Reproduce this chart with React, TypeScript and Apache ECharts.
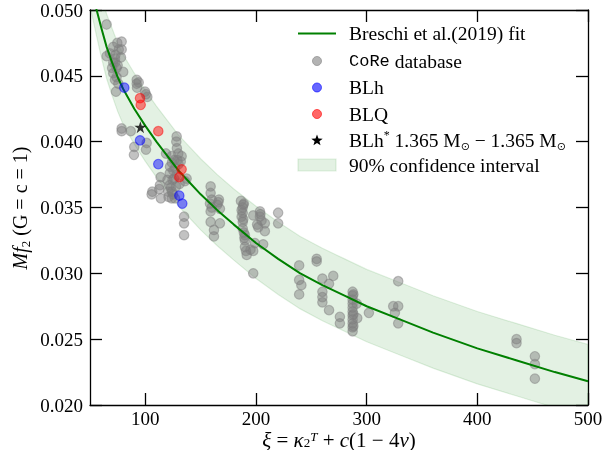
import React, { useEffect, useRef } from "react";
import * as echarts from "echarts";

// ---- Fit curve (Breschi et al. 2019) and 90% band ----
const fitXi = [50, 56, 60, 65, 70, 75, 80, 90, 100, 110, 120, 130, 140, 150, 165, 180, 200, 220, 240, 260, 280, 300, 330, 360, 400, 435, 470, 500];
const fitMf = [0.0522, 0.05, 0.0487, 0.0472, 0.046, 0.0449, 0.044, 0.0425, 0.0412, 0.04, 0.0389, 0.0378, 0.0369, 0.036, 0.0348, 0.0337, 0.0323, 0.0311, 0.03, 0.0291, 0.0283, 0.0275, 0.0265, 0.0255, 0.0243, 0.0234, 0.0225, 0.0218];
const bandUpper = [0.0546, 0.0524, 0.0512, 0.0497, 0.0486, 0.0475, 0.0466, 0.0452, 0.0439, 0.0427, 0.0416, 0.0405, 0.0396, 0.0387, 0.0375, 0.0364, 0.0351, 0.0339, 0.0328, 0.0319, 0.0311, 0.0303, 0.0293, 0.0283, 0.0271, 0.0262, 0.0253, 0.0246];
const bandLower = [0.0503, 0.048, 0.0465, 0.0448, 0.0435, 0.0423, 0.0413, 0.0398, 0.0385, 0.0373, 0.0362, 0.0351, 0.0342, 0.0333, 0.0321, 0.031, 0.0296, 0.0284, 0.0273, 0.0264, 0.0256, 0.0248, 0.0238, 0.0228, 0.0216, 0.0207, 0.0198, 0.0191];

// ---- CoRe database points [xi, Mf2] ----
const coreA = [[65, 0.0489], [74.7, 0.0475], [78.6, 0.0476], [71, 0.0472], [78.6, 0.047], [65, 0.0465], [68, 0.0467], [72.6, 0.0463], [78, 0.0464], [71, 0.046], [74, 0.0456], [71, 0.0452], [74, 0.0449], [72.6, 0.0447], [75.6, 0.0444], [73.5, 0.0438], [80, 0.0453], [72.6, 0.046], [75, 0.0458], [73, 0.0466], [76, 0.047], [70, 0.0456]];
const coreB = [[92.2, 0.0447], [92.2, 0.0444], [92.5, 0.0441], [99.7, 0.0438], [101.8, 0.0434], [100.5, 0.0436], [94, 0.0445]];
const coreC = [[78.6, 0.041], [78.6, 0.0408], [86.8, 0.0408], [90, 0.0396], [89.7, 0.039], [101.2, 0.0399], [100.6, 0.0394]];
const coreD = [[128.3, 0.0404], [128, 0.04], [128.5, 0.0395], [118.7, 0.0391], [123.8, 0.0389], [129.8, 0.0391], [132.8, 0.0389], [126, 0.0386], [122.3, 0.0381], [125.3, 0.0378], [122, 0.0376], [128.3, 0.0375], [124.6, 0.0371], [122, 0.0367], [127.7, 0.0366], [124, 0.0362], [120.7, 0.0362], [123.8, 0.0357], [135.8, 0.037], [137.3, 0.0372], [113.8, 0.0373], [113.2, 0.0367], [112.6, 0.0364], [106.3, 0.0362], [105.7, 0.036], [114, 0.0357], [135, 0.0343], [135, 0.0338], [135, 0.0329], [126.8, 0.0357], [130, 0.0383], [127, 0.038], [131, 0.0368], [120, 0.0371], [124, 0.0384], [126, 0.0372], [123, 0.0365], [129, 0.0386], [125, 0.036], [121, 0.0358], [132, 0.0385]];
const coreE = [[159, 0.0366], [159, 0.0361], [166, 0.0354], [167.4, 0.0349], [158.4, 0.0353], [159, 0.0347], [159, 0.0339], [167.4, 0.0338], [162, 0.0333], [162, 0.0328], [166.5, 0.0356], [160, 0.0356], [160, 0.035], [165, 0.0352]];
const coreF = [[186.4, 0.0355], [188.5, 0.0352], [187, 0.0348], [187, 0.0343], [188, 0.0339], [188, 0.0334], [190, 0.0329], [190, 0.032], [191.6, 0.0314], [197.5, 0.0317], [199, 0.0323], [197.5, 0.0344], [203.6, 0.0347], [203.6, 0.0343], [202, 0.0335], [208, 0.0338], [208, 0.0332], [206.5, 0.0322], [197.5, 0.03], [220, 0.0346], [220, 0.0338], [189, 0.0353], [188, 0.0346], [190, 0.0325], [195, 0.0318], [205, 0.034], [201, 0.0337], [188, 0.035], [188.5, 0.0341], [189, 0.0331], [189.5, 0.0327], [191, 0.0317], [204, 0.0345]];
const coreG = [[239, 0.0306], [239, 0.0295], [241, 0.0291], [239, 0.0284], [254.8, 0.0311], [254.8, 0.0309], [260, 0.0296], [269.8, 0.0298], [266, 0.0292], [260, 0.0286], [260, 0.0282], [260, 0.0278], [266, 0.0272], [275.8, 0.0267], [275.8, 0.0262]];
const coreH = [[287.3, 0.0286], [287.3, 0.0283], [287.3, 0.028], [287.3, 0.0277], [287.3, 0.0274], [287.3, 0.0271], [287.3, 0.0268], [287.3, 0.0265], [287.3, 0.0262], [287.3, 0.0259], [287.3, 0.0256], [291, 0.0277], [291.5, 0.0266], [302, 0.027], [288, 0.0284], [288, 0.0269], [288, 0.026]];
const coreI = [[328.5, 0.0294], [324, 0.0275], [328.5, 0.0275], [325.5, 0.027], [328.5, 0.0262]];
const coreJ = [[435.4, 0.025], [435.4, 0.0247], [452, 0.0237], [452, 0.0231], [452, 0.022]];

const blhPoints = [[81, 0.0441], [95.2, 0.0401], [111.7, 0.0383], [130.7, 0.0359], [133.4, 0.0353]];
const blqPoints = [[95.2, 0.0433], [95.8, 0.0428], [111.7, 0.0408], [132.8, 0.0379], [130.7, 0.0373]];
const starPoints = [[95.5, 0.0411]];

const xTicks = [100, 200, 300, 400, 500];

const SERIF = "'Liberation Serif', 'DejaVu Serif', serif";
const STAR_PATH = "path://M50,0 L61.2,34.5 L97.6,34.5 L68.2,55.9 L79.4,90.5 L50,69.1 L20.6,90.5 L31.8,55.9 L2.4,34.5 L38.8,34.5 Z";

function starPolygon(cx: number, cy: number, R: number, r: number) {
  const pts: number[][] = [];
  for (let i = 0; i < 10; i++) {
    const a = -Math.PI / 2 + (i * Math.PI) / 5;
    const rad = i % 2 === 0 ? R : r;
    pts.push([cx + rad * Math.cos(a), cy + rad * Math.sin(a)]);
  }
  return pts;
}

export default function App() {
  const ref = useRef<HTMLDivElement>(null);
  useEffect(() => {
    if (!ref.current) return;
    const chart = echarts.init(ref.current, undefined, { renderer: "svg" });
    const core = [...coreA, ...coreB, ...coreC, ...coreD, ...coreE, ...coreF, ...coreG, ...coreH, ...coreI, ...coreJ];
    const bandData = fitXi.map((x, i) => [x, bandLower[i], bandUpper[i]]);
    const axisLineStyle = { color: "#000", width: 1.3 };
    const grayFill = "rgba(128,128,128,0.6)";
    const legendX = 298;
    const textX = 349;
    const rows = [33.5, 61, 87.5, 114, 140, 165];
    const LF = 19.5;
    const lt = { fontFamily: SERIF, fontSize: LF, fill: "#000" };

    chart.setOption({
      animation: false,
      grid: { left: 90, right: 22, top: 10, bottom: 45, containLabel: false, outerBoundsMode: "none" },
      xAxis: [
        {
          type: "value", min: 50, max: 500, position: "bottom",
          axisLine: { show: true, lineStyle: axisLineStyle },
          axisTick: { show: true, inside: true, length: 12, customValues: xTicks, lineStyle: axisLineStyle },
          axisLabel: { show: true, customValues: xTicks, margin: 4, fontFamily: SERIF, fontSize: 19, color: "#000" },
          splitLine: { show: false },
        },
        {
          type: "value", min: 50, max: 500, position: "top",
          axisLine: { show: true, lineStyle: axisLineStyle },
          axisTick: { show: true, inside: true, length: 12, customValues: xTicks, lineStyle: axisLineStyle },
          axisLabel: { show: false },
          splitLine: { show: false },
        },
      ],
      yAxis: [
        {
          type: "value", min: 0.02, max: 0.05, interval: 0.005, position: "left",
          axisLine: { show: true, lineStyle: axisLineStyle },
          axisTick: { show: true, inside: true, length: 12, lineStyle: axisLineStyle },
          axisLabel: { show: true, margin: 7, fontFamily: SERIF, fontSize: 19, color: "#000", formatter: (v: number) => v.toFixed(3) },
          splitLine: { show: false },
        },
        {
          type: "value", min: 0.02, max: 0.05, interval: 0.005, position: "right",
          axisLine: { show: true, lineStyle: axisLineStyle },
          axisTick: { show: true, inside: true, length: 12, lineStyle: axisLineStyle },
          axisLabel: { show: false },
          splitLine: { show: false },
        },
      ],
      series: [
        {
          type: "custom",
          name: "band",
          data: bandData,
          silent: true,
          z: 1,
          renderItem: (params: any, api: any) => {
            if (params.dataIndex !== 0) return null;
            const up = fitXi.map((x, i) => api.coord([x, bandUpper[i]]));
            const lo = fitXi.map((x, i) => api.coord([x, bandLower[i]])).reverse();
            const cs = params.coordSys;
            return {
              type: "polygon",
              shape: { points: [...up, ...lo] },
              clipPath: { type: "rect", shape: { x: cs.x, y: cs.y, width: cs.width, height: cs.height } },
              style: { fill: "rgba(0,128,0,0.11)", stroke: "rgba(0,128,0,0.12)", lineWidth: 1.2 },
            };
          },
        },
        {
          type: "scatter", name: "CoRe", data: core, symbol: "circle", symbolSize: 9.5, z: 2,
          itemStyle: { color: grayFill, borderColor: grayFill, borderWidth: 1.2 },
        },
        {
          type: "line", name: "fit", data: fitXi.map((x, i) => [x, fitMf[i]]), smooth: false,
          showSymbol: false, symbol: "none", z: 3, lineStyle: { color: "green", width: 2, join: "round" },
        },
        {
          type: "scatter", name: "BLh", data: blhPoints, symbolSize: 9.5, z: 4,
          itemStyle: { color: "rgba(0,0,255,0.6)", borderColor: "rgba(0,0,255,0.6)", borderWidth: 1.2 },
        },
        {
          type: "scatter", name: "BLQ", data: blqPoints, symbolSize: 9.5, z: 4,
          itemStyle: { color: "rgba(255,0,0,0.6)", borderColor: "rgba(255,0,0,0.6)", borderWidth: 1.2 },
        },
        {
          type: "scatter", name: "star", data: starPoints, symbol: STAR_PATH, symbolSize: 12, z: 5,
          itemStyle: { color: "#000" },
        },
      ],
      graphic: [
        { type: "line", shape: { x1: legendX, y1: rows[0], x2: legendX + 38, y2: rows[0] }, style: { stroke: "green", lineWidth: 2 } },
        { type: "circle", shape: { cx: 317, cy: rows[1], r: 4.5 }, style: { fill: grayFill, stroke: grayFill, lineWidth: 1 } },
        { type: "circle", shape: { cx: 317, cy: rows[2], r: 4.5 }, style: { fill: "rgba(0,0,255,0.6)", stroke: "rgba(0,0,255,0.6)", lineWidth: 1 } },
        { type: "circle", shape: { cx: 317, cy: rows[3], r: 4.5 }, style: { fill: "rgba(255,0,0,0.6)", stroke: "rgba(255,0,0,0.6)", lineWidth: 1 } },
        { type: "polygon", shape: { points: starPolygon(317, rows[4] + 0.5, 6, 2.5) }, style: { fill: "#000" } },
        { type: "rect", shape: { x: legendX, y: rows[5] - 6, width: 38, height: 12 }, style: { fill: "rgba(0,128,0,0.11)", stroke: "rgba(0,128,0,0.12)", lineWidth: 1.2 } },
        { type: "text", x: textX, y: rows[0], style: { ...lt, text: "Breschi et al.(2019) fit", verticalAlign: "middle" } },
        {
          type: "text", x: textX, y: rows[1],
          style: { ...lt, text: "{tt|CoRe}{r| database}", verticalAlign: "middle", rich: { tt: { fontFamily: "'Liberation Mono', 'DejaVu Sans Mono', monospace", fontSize: 17 }, r: { fontFamily: SERIF, fontSize: LF } } },
        },
        { type: "text", x: textX, y: rows[2], style: { ...lt, text: "BLh", verticalAlign: "middle" } },
        { type: "text", x: textX, y: rows[3], style: { ...lt, text: "BLQ", verticalAlign: "middle" } },
        {
          type: "text", x: textX, y: rows[4],
          style: {
            ...lt, verticalAlign: "middle",
            text: "{r|BLh}{sup|*}{r| 1.365 M}{sub|⊙}{r| − 1.365 M}{sub|⊙}",
            rich: {
              r: { fontFamily: SERIF, fontSize: LF, lineHeight: 23 },
              sup: { fontFamily: SERIF, fontSize: 12, verticalAlign: "top", lineHeight: 12 },
              sub: { fontFamily: "'DejaVu Sans', sans-serif", fontSize: 11, verticalAlign: "bottom", lineHeight: 11 },
            },
          },
        },
        { type: "text", x: textX, y: rows[5], style: { ...lt, text: "90% confidence interval", verticalAlign: "middle" } },
        {
          type: "text", x: 339, y: 439.5,
          style: {
            fontFamily: SERIF, fontSize: 21, fill: "#000", align: "center", verticalAlign: "middle",
            text: "{i|ξ}{r| = }{i|κ}{sub|2}{sup|T}{r| + }{i|c}{r|(1 − 4}{i|ν}{r|)}",
            rich: {
              i: { fontFamily: SERIF, fontSize: 21, fontStyle: "italic", lineHeight: 19 },
              r: { fontFamily: SERIF, fontSize: 21, lineHeight: 19 },
              sub: { fontFamily: SERIF, fontSize: 13, verticalAlign: "bottom", lineHeight: 12 },
              sup: { fontFamily: SERIF, fontSize: 13, fontStyle: "italic", verticalAlign: "top", lineHeight: 12 },
            },
          },
        },
        {
          type: "text", x: 20, y: 208, rotation: Math.PI / 2,
          style: {
            fontFamily: SERIF, fontSize: 20, fill: "#000", align: "center", verticalAlign: "middle",
            text: "{i|Mf}{sub|2}{r| (G = c = 1)}",
            rich: {
              i: { fontFamily: SERIF, fontSize: 20, fontStyle: "italic", lineHeight: 24 },
              r: { fontFamily: SERIF, fontSize: 20, lineHeight: 24 },
              sub: { fontFamily: SERIF, fontSize: 13, verticalAlign: "bottom", lineHeight: 13 },
            },
          },
        },
      ],
    });
    return () => chart.dispose();
  }, []);
  return <div ref={ref} style={{ position: "fixed", left: 0, top: 0, width: 610, height: 450 }} />;
}
